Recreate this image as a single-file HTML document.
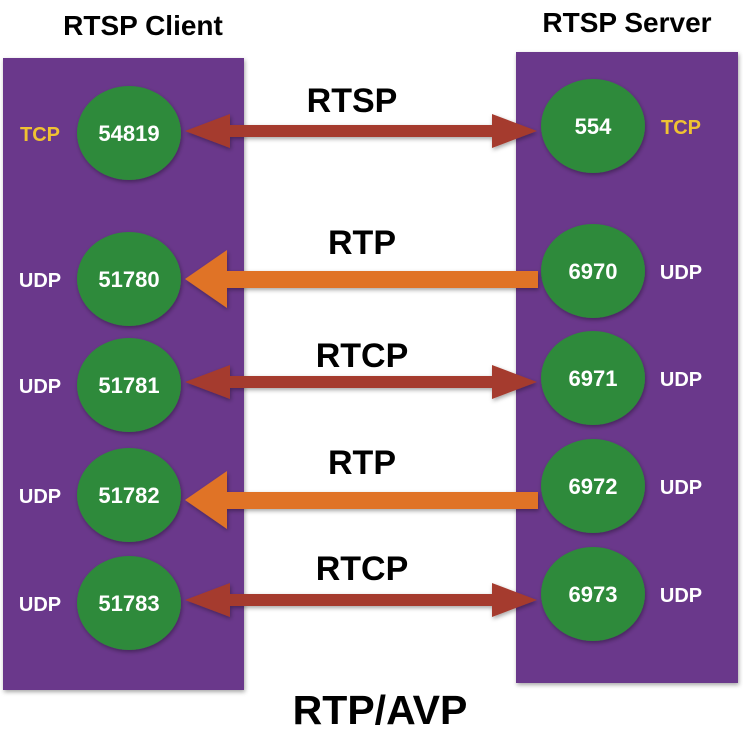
<!DOCTYPE html>
<html><head><meta charset="utf-8"><style>
html,body{margin:0;padding:0;background:#fff;}
svg{display:block;}
text{font-family:"Liberation Sans",Arial,sans-serif;font-weight:bold;}
</style></head><body>
<svg width="743" height="738" viewBox="0 0 743 738" xmlns="http://www.w3.org/2000/svg">
<defs>
<filter id="sh" x="-10%" y="-10%" width="130%" height="130%"><feDropShadow dx="1" dy="2" stdDeviation="2" flood-color="#000" flood-opacity="0.35"/></filter>
</defs>
<rect x="3" y="58" width="241" height="632" fill="#6a398b" filter="url(#sh)"/>
<rect x="516" y="52" width="222" height="631" fill="#6a398b" filter="url(#sh)"/>
<text x="143" y="35" font-size="28" text-anchor="middle" fill="#000">RTSP Client</text>
<text x="627" y="32" font-size="28" text-anchor="middle" fill="#000">RTSP Server</text>
<text x="380" y="724" font-size="41" text-anchor="middle" fill="#000">RTP/AVP</text>

<g fill="#2d8a3a" filter="url(#sh)">
<ellipse cx="129" cy="133" rx="52" ry="47"/>
<ellipse cx="129" cy="279" rx="52" ry="47"/>
<ellipse cx="129" cy="385" rx="52" ry="47"/>
<ellipse cx="129" cy="495" rx="52" ry="47"/>
<ellipse cx="129" cy="603" rx="52" ry="47"/>
<ellipse cx="593" cy="126" rx="52" ry="47"/>
<ellipse cx="593" cy="271" rx="52" ry="47"/>
<ellipse cx="593" cy="378" rx="52" ry="47"/>
<ellipse cx="593" cy="486" rx="52" ry="47"/>
<ellipse cx="593" cy="594" rx="52" ry="47"/>
</g>
<g fill="#fff" font-size="22" text-anchor="middle">
<text x="129" y="141">54819</text>
<text x="129" y="287">51780</text>
<text x="129" y="393">51781</text>
<text x="129" y="503">51782</text>
<text x="129" y="611">51783</text>
<text x="593" y="134">554</text>
<text x="593" y="279">6970</text>
<text x="593" y="386">6971</text>
<text x="593" y="494">6972</text>
<text x="593" y="602">6973</text>
</g>
<g font-size="20" text-anchor="middle">
<text x="40" y="141" fill="#f0c232">TCP</text>
<text x="40" y="287" fill="#fff">UDP</text>
<text x="40" y="393" fill="#fff">UDP</text>
<text x="40" y="503" fill="#fff">UDP</text>
<text x="40" y="611" fill="#fff">UDP</text>
<text x="681" y="134" fill="#f0c232">TCP</text>
<text x="681" y="279" fill="#fff">UDP</text>
<text x="681" y="386" fill="#fff">UDP</text>
<text x="681" y="494" fill="#fff">UDP</text>
<text x="681" y="602" fill="#fff">UDP</text>
</g>
<g font-size="34" text-anchor="middle" fill="#000">
<text x="352" y="112">RTSP</text>
<text x="362" y="254">RTP</text>
<text x="362" y="367">RTCP</text>
<text x="362" y="474">RTP</text>
<text x="362" y="580">RTCP</text>
</g>
<g fill="#a53a2d" filter="url(#sh)">
<path d="M185 131 L230 114 L230 125 L492 125 L492 114 L537 131 L492 148 L492 137 L230 137 L230 148 Z"/>
<path d="M185 382 L230 365 L230 376 L492 376 L492 365 L537 382 L492 399 L492 388 L230 388 L230 399 Z"/>
<path d="M185 600 L230 583 L230 594 L492 594 L492 583 L537 600 L492 617 L492 606 L230 606 L230 617 Z"/>
</g>
<g fill="#e07326" filter="url(#sh)">
<path d="M185 279 L227 250 L227 271 L538 271 L538 288 L227 288 L227 308 Z"/>
<path d="M185 500 L227 471 L227 492 L538 492 L538 509 L227 509 L227 529 Z"/>
</g>
</svg>
</body></html>
